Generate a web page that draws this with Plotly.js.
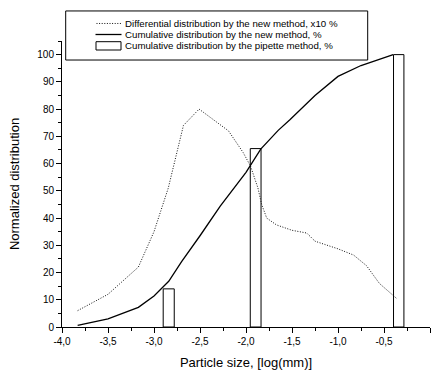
<!DOCTYPE html>
<html>
<head>
<meta charset="utf-8">
<script src="https://cdn.plot.ly/plotly-3.0.1.min.js"></script>
<style>html,body{margin:0;padding:0;background:#fff;}#chart{width:437px;height:374px;}</style>
</head>
<body>
<div id="chart"></div>
<script>
// Data
var diffX = [-3.83, -3.5, -3.17, -3.0, -2.845, -2.68, -2.51, -2.35, -2.19, -2.03, -1.95, -1.87, -1.83, -1.775, -1.67, -1.5, -1.34, -1.25, -1.0, -0.83, -0.69, -0.55, -0.36];
var diffY = [6, 12, 22, 35, 51, 74, 80, 76, 72, 64, 59, 51, 45, 40, 37.5, 35.5, 34.5, 31.5, 28.7, 26.4, 22.5, 16, 10.4];
var cumX = [-3.83, -3.5, -3.17, -3.0, -2.84, -2.7, -2.5, -2.28, -2.0, -1.84, -1.65, -1.52, -1.25, -1.0, -0.75, -0.6, -0.4];
var cumY = [0.6, 3, 7.2, 11.4, 16.8, 24, 33.5, 44.4, 56.8, 65.3, 72.2, 76.2, 85, 92, 96, 97.6, 100];
var pipX = [-2.84, -1.895, -0.34];
var pipY = [14, 65.5, 100];
var pipW = [0.12, 0.117, 0.113];
var xTickVals = [-4.0, -3.5, -3.0, -2.5, -2.0, -1.5, -1.0, -0.5, 0.0];
var xTickText = ["-4,0", "-3,5", "-3,0", "-2,5", "-2,0", "-1,5", "-1,0", "-0,5", "0,0"];
var yTickVals = [0, 10, 20, 30, 40, 50, 60, 70, 80, 90, 100];
var yTickText = ["0", "10", "20", "30", "40", "50", "60", "70", "80", "90", "100"];
var legendNames = [
  "Differential distribution by the new method, x10 %",
  "Cumulative distribution by the new method, %",
  "Cumulative distribution by the pipette method, %"
];

var FONT = "Arial, 'Liberation Sans', Helvetica, sans-serif";
var DOT = '1px,1.6px';
var W = 437, H = 374;
var M = {l: 62, r: 7, t: 41, b: 47.3};
function px(x) { return (x - M.l) / (W - M.l - M.r); }
function py(y) { return (H - M.b - y) / (H - M.t - M.b); }

var traces = [
  {type: 'bar', x: pipX, y: pipY, width: pipW, name: legendNames[2],
   marker: {color: 'rgba(255,255,255,1)', line: {color: '#000', width: 1}}, showlegend: false, hoverinfo: 'x+y'},
  {type: 'scatter', mode: 'lines', x: diffX, y: diffY, name: legendNames[0],
   line: {color: '#111', width: 1, dash: DOT}, showlegend: false},
  {type: 'scatter', mode: 'lines', x: cumX, y: cumY, name: legendNames[1],
   line: {color: '#000', width: 1.3}, showlegend: false}
];

var rowY = [23.5, 34.5, 45.3];
var shapes = [
  {type: 'rect', xref: 'paper', yref: 'paper', x0: px(65.7), x1: px(367.7), y0: py(11), y1: py(60),
   line: {color: '#000', width: 1}, fillcolor: '#fff', layer: 'above'},
  {type: 'line', xref: 'paper', yref: 'paper', x0: px(96.5), x1: px(121.5), y0: py(rowY[0]), y1: py(rowY[0]),
   line: {color: '#111', width: 1, dash: DOT}, layer: 'above'},
  {type: 'line', xref: 'paper', yref: 'paper', x0: px(95.5), x1: px(121.5), y0: py(rowY[1]), y1: py(rowY[1]),
   line: {color: '#000', width: 1.3}, layer: 'above'},
  {type: 'rect', xref: 'paper', yref: 'paper', x0: px(96), x1: px(121), y0: py(41.7), y1: py(50),
   line: {color: '#000', width: 1}, fillcolor: '#fff', layer: 'above'}
];
var annotations = legendNames.map(function (t, i) {
  return {xref: 'paper', yref: 'paper', x: px(123), y: py(rowY[i]), xanchor: 'left', yanchor: 'middle',
          text: t, showarrow: false, font: {family: FONT, size: 9.7, color: '#000'}};
});

var layout = {
  width: W, height: H,
  margin: M,
  paper_bgcolor: '#fff', plot_bgcolor: '#fff',
  font: {family: FONT, color: '#000'},
  showlegend: false,
  bargap: 0,
  xaxis: {
    range: [-4, 0], showgrid: false, zeroline: false, showline: true, linecolor: '#000', linewidth: 1,
    tickmode: 'array', tickvals: xTickVals, ticktext: xTickText,
    ticks: 'outside', ticklen: 5, tickwidth: 1, tickcolor: '#000',
    tickfont: {family: FONT, size: 10, color: '#000'},
    minor: {tickmode: 'linear', tick0: 0, dtick: 0.25, ticks: 'outside', ticklen: 3, tickwidth: 1, tickcolor: '#000', showgrid: false},
    title: {text: 'Particle size, [log(mm)]', font: {family: FONT, size: 13, color: '#000'}, standoff: 11}
  },
  yaxis: {
    range: [0, 105], showgrid: false, zeroline: false, showline: true, linecolor: '#000', linewidth: 1,
    tickmode: 'array', tickvals: yTickVals, ticktext: yTickText,
    ticks: 'outside', ticklen: 5, tickwidth: 1, tickcolor: '#000',
    tickfont: {family: FONT, size: 10, color: '#000'},
    minor: {tickmode: 'linear', tick0: 0, dtick: 5, ticks: 'outside', ticklen: 3, tickwidth: 1, tickcolor: '#000', showgrid: false},
    title: {text: 'Normalized distribution', font: {family: FONT, size: 13, color: '#000'}, standoff: 14}
  },
  shapes: shapes,
  annotations: annotations
};

Plotly.newPlot('chart', traces, layout, {displayModeBar: false, staticPlot: true});
</script>
</body>
</html>
